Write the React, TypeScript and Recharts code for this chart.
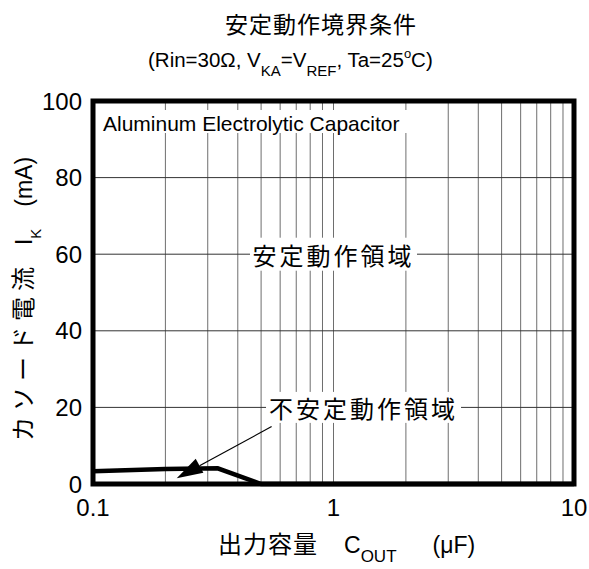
import React from 'react';
import {
  ComposedChart,
  Line,
  XAxis,
  YAxis,
  ReferenceLine,
  ReferenceArea,
  ReferenceDot,
} from 'recharts';

// boundary of stable operation
const cout = [0.1, 0.2, 0.33, 0.5, 10];
const ik = [3.3, 3.9, 4.1, 0, 0];

const xTicks = [0.1, 1, 10];
const yTicks = [0, 20, 40, 60, 80, 100];
const xGrid = [0.2, 0.3, 0.4, 0.5, 0.6, 0.7, 0.8, 0.9, 1, 2, 3, 4, 5, 6, 7, 8, 9];
const yGrid = [20, 40, 60, 80];

const title = '安定動作境界条件';
const stableLabel = '安定動作領域';
const unstableLabel = '不安定動作領域';
const capLabel = 'Aluminum Electrolytic Capacitor';

// arrow from the unstable label down to the curve
const arrowFrom = { x: 0.553, y: 15 };
const arrowTo = { x: 0.2229, y: 1.5 };

const data = cout.map((c, i) => ({ c, ik: ik[i] }));

const SANS = '"Liberation Sans", Arial, sans-serif';
const CJK = '"Noto Sans CJK JP", sans-serif';

const sub: React.CSSProperties = { fontSize: 15, position: 'relative', top: 9 };

const boxText = (text: string, w: number, h: number) => (p: any) => (
  <g>
    <rect x={p.cx - w / 2} y={p.cy - h / 2} width={w} height={h} fill="#fff" />
    <text
      x={p.cx}
      y={p.cy}
      textAnchor="middle"
      dominantBaseline="central"
      fontFamily={CJK}
      fontSize={24}
      style={{ letterSpacing: 3 }}
      fill="#000"
    >
      {text}
    </text>
  </g>
);

const capBox = (p: any) => (
  <g>
    <rect x={p.cx + 4} y={p.cy + 9} width={313} height={23} fill="#fff" />
    <text x={p.cx + 10} y={p.cy + 22} dominantBaseline="central" fontFamily={SANS} fontSize={21} fill="#000">
      {capLabel}
    </text>
  </g>
);

const arrow = (p: any) => {
  const { x1, y1, x2, y2 } = p;
  const dx = x2 - x1;
  const dy = y2 - y1;
  const len = Math.sqrt(dx * dx + dy * dy);
  const ux = dx / len;
  const uy = dy / len;
  const hl = 26;
  const hw = 8;
  const bx = x2 - ux * hl;
  const by = y2 - uy * hl;
  return (
    <g>
      <line x1={x1} y1={y1} x2={bx} y2={by} stroke="#000" strokeWidth={1.2} />
      <polygon
        points={`${x2},${y2} ${bx - uy * hw},${by + ux * hw} ${bx + uy * hw},${by - ux * hw}`}
        fill="#000"
      />
    </g>
  );
};

export default function App() {
  return (
    <div style={{ position: 'absolute', left: 0, top: 0, width: 589, height: 569, background: '#fff' }}>
      <ComposedChart width={589} height={569} data={data} margin={{ top: 101, right: 15, left: 33, bottom: 55 }}>
        <XAxis
          dataKey="c"
          type="number"
          scale="log"
          domain={[0.1, 10]}
          ticks={xTicks}
          tickFormatter={(v: number) => String(v)}
          axisLine={false}
          tickLine={false}
          tickSize={0}
          tickMargin={15}
          tick={{ fontSize: 24, fill: '#000', fontFamily: SANS }}
          height={30}
        />
        <YAxis
          type="number"
          domain={[0, 100]}
          ticks={yTicks}
          axisLine={false}
          tickLine={false}
          tickSize={0}
          tickMargin={11}
          tick={{ fontSize: 24, fill: '#000', fontFamily: SANS }}
          width={60}
        />
        {xGrid.map((v) => (
          <ReferenceLine key={'x' + v} x={v} stroke="#6e6e6e" strokeWidth={1} zIndex={1} />
        ))}
        {yGrid.map((v) => (
          <ReferenceLine key={'y' + v} y={v} stroke="#333" strokeWidth={1} zIndex={1} />
        ))}
        <ReferenceDot x={0.1} y={100} ifOverflow="visible" shape={capBox} zIndex={2} />
        <ReferenceDot x={1} y={60} ifOverflow="visible" shape={boxText(stableLabel, 167, 33)} zIndex={2} />
        <ReferenceDot x={1.333} y={20} ifOverflow="visible" shape={boxText(unstableLabel, 195, 31)} zIndex={2} />
        <Line
          type="linear"
          dataKey="ik"
          stroke="#000"
          strokeWidth={4.5}
          dot={false}
          isAnimationActive={false}
          zIndex={3}
        />
        <ReferenceLine segment={[arrowFrom, arrowTo]} shape={arrow} zIndex={4} />
        <ReferenceArea x1={0.1} x2={10} y1={0} y2={100} fill="none" stroke="#000" strokeWidth={5} zIndex={5} />
      </ComposedChart>

      <div
        style={{
          position: 'absolute', left: 321, top: 23, transform: 'translate(-50%, -50%)',
          fontFamily: CJK, fontSize: 23, letterSpacing: 1, whiteSpace: 'nowrap', lineHeight: '30px',
        }}
      >
        {title}
      </div>
      <div
        style={{
          position: 'absolute', left: 148, top: 47,
          fontFamily: SANS, fontSize: 20.5, whiteSpace: 'nowrap', lineHeight: '26px',
        }}
      >
        (Rin=30Ω, V<span style={sub}>KA</span>=V<span style={sub}>REF</span>, Ta=25
        <span style={{ fontSize: 13, position: 'relative', top: -9 }}>o</span>C)
      </div>
      <div
        style={{
          position: 'absolute', left: 24, top: 299, transform: 'translate(-50%, -50%) rotate(-90deg)',
          fontFamily: SANS, fontSize: 23, whiteSpace: 'nowrap', lineHeight: '28px',
        }}
      >
        <span style={{ fontFamily: CJK, fontSize: 24, letterSpacing: 6 }}>カソード電流</span>
        <span style={{ marginLeft: 16 }}>I</span>
        <span style={sub}>K</span>
        <span style={{ marginLeft: 22 }}>(mA)</span>
      </div>
      <div
        style={{
          position: 'absolute', left: 218, top: 529,
          fontFamily: SANS, fontSize: 23, whiteSpace: 'nowrap', lineHeight: '28px',
        }}
      >
        <span style={{ fontFamily: CJK, fontSize: 24, letterSpacing: 1 }}>出力容量</span>
        <span style={{ marginLeft: 26 }}>C</span>
        <span style={{ ...sub, fontSize: 17 }}>OUT</span>
        <span style={{ marginLeft: 36 }}>(μF)</span>
      </div>
    </div>
  );
}
